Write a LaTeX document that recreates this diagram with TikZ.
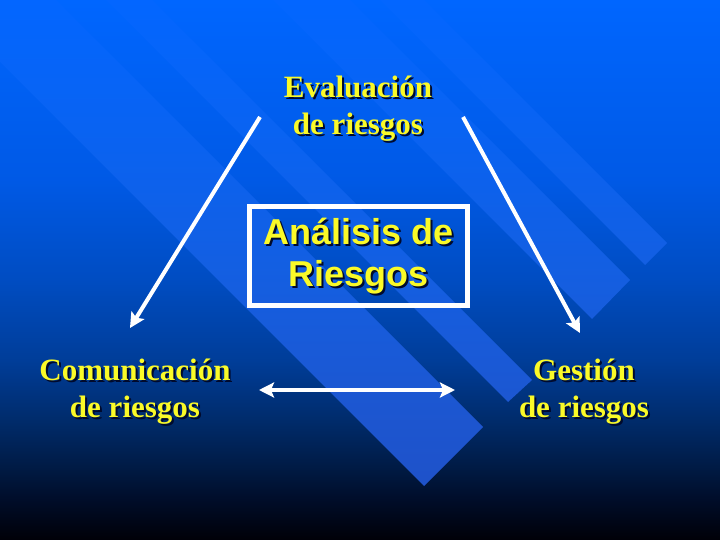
\documentclass[tikz,border=0pt]{standalone}
\usepackage{fontspec}
\setmainfont{Liberation Serif}
\newfontfamily\arialfont{Liberation Sans}
\usetikzlibrary{arrows.meta}

\definecolor{labelyellow}{RGB}{250,250,40}
\definecolor{labelshadow}{RGB}{0,10,45}

% slide background, dark at the foot, bright blue at the top
\pgfdeclareverticalshading{slidefade}{100bp}{rgb(0bp)=(0,0,0.03); rgb(25bp)=(0,0,0.03); rgb(28.7bp)=(0,0.05,0.16); rgb(31.5bp)=(0,0.1,0.26); rgb(36.1bp)=(0,0.17,0.42); rgb(41.7bp)=(0,0.24,0.6); rgb(49.1bp)=(0,0.3,0.76); rgb(58.3bp)=(0,0.35,0.9); rgb(75bp)=(0,0.4,1); rgb(100bp)=(0,0.4,1)}
% the diagonal bands
\pgfdeclareverticalshading{stripefade}{100bp}{rgb(0bp)=(0.12,0.3,0.75); rgb(25bp)=(0.12,0.3,0.75); rgb(30bp)=(0.12,0.32,0.79); rgb(38bp)=(0.11,0.34,0.82); rgb(49.1bp)=(0.08,0.37,0.88); rgb(61.1bp)=(0.04,0.385,0.94); rgb(75bp)=(0.01,0.4,1); rgb(100bp)=(0.01,0.4,1)}

\tikzset{
  lbl/.style={align=center, inner sep=0pt, text=labelyellow, font=\bfseries\fontsize{31}{37}\selectfont},
  big/.style={font=\arialfont\bfseries\fontsize{36}{42}\selectfont},
  shd/.style={text=labelshadow, xshift=2pt, yshift=-2pt},
  tip/.tip={Stealth[length=15pt,width=15pt,inset=3pt]},
  arr/.style={draw=white, line width=4pt, -tip},
}

\begin{document}
\begin{tikzpicture}[x=1pt, y=-1pt]
\useasboundingbox (0,0) rectangle (720,540);
\clip (0,0) rectangle (720,540);
\shade[shading=slidefade] (0,0) rectangle (720,540);
\begin{scope}
\clip (424,486) -- (483,427) -- (56,0) -- (0,0) -- (0,62) -- cycle
      (508,402) -- (532,380) -- (152,0) -- (106,0) -- cycle
      (592,319) -- (630,280) -- (350,0) -- (273,0) -- cycle
      (645,265) -- (667,243) -- (424,0) -- (380,0) -- cycle;
\shade[shading=stripefade] (0,0) rectangle (720,540);
\end{scope}

\node[lbl, shd] (eval-s) at (358,109) {Evaluación\\de riesgos};
\node[lbl] (eval) at (358,109) {Evaluación\\de riesgos};
\node[lbl, shd] (com-s) at (135,392) {Comunicación\\de riesgos};
\node[lbl] (com) at (135,392) {Comunicación\\de riesgos};
\node[lbl, shd] (ges-s) at (584,392) {Gestión\\de riesgos};
\node[lbl] (ges) at (584,392) {Gestión\\de riesgos};
\node[lbl, big, shd] (anal-s) at (358.5,256) {Análisis de\\Riesgos};
\node[lbl, big, draw=white, line width=5pt, minimum width=218pt, minimum height=99pt] (anal) at (358.5,256) {Análisis de\\Riesgos};

\coordinate (evalL) at (260,117);
\coordinate (evalR) at (463,117);
\coordinate (comT) at (130,328);
\coordinate (gesT) at (580,333);
\coordinate (comE) at (259,390);
\coordinate (gesW) at (455,390);
\draw[arr] (evalL) -- (comT);
\draw[arr] (evalR) -- (gesT);
\draw[arr, tip-tip] (comE) -- (gesW);
\end{tikzpicture}
\end{document}
